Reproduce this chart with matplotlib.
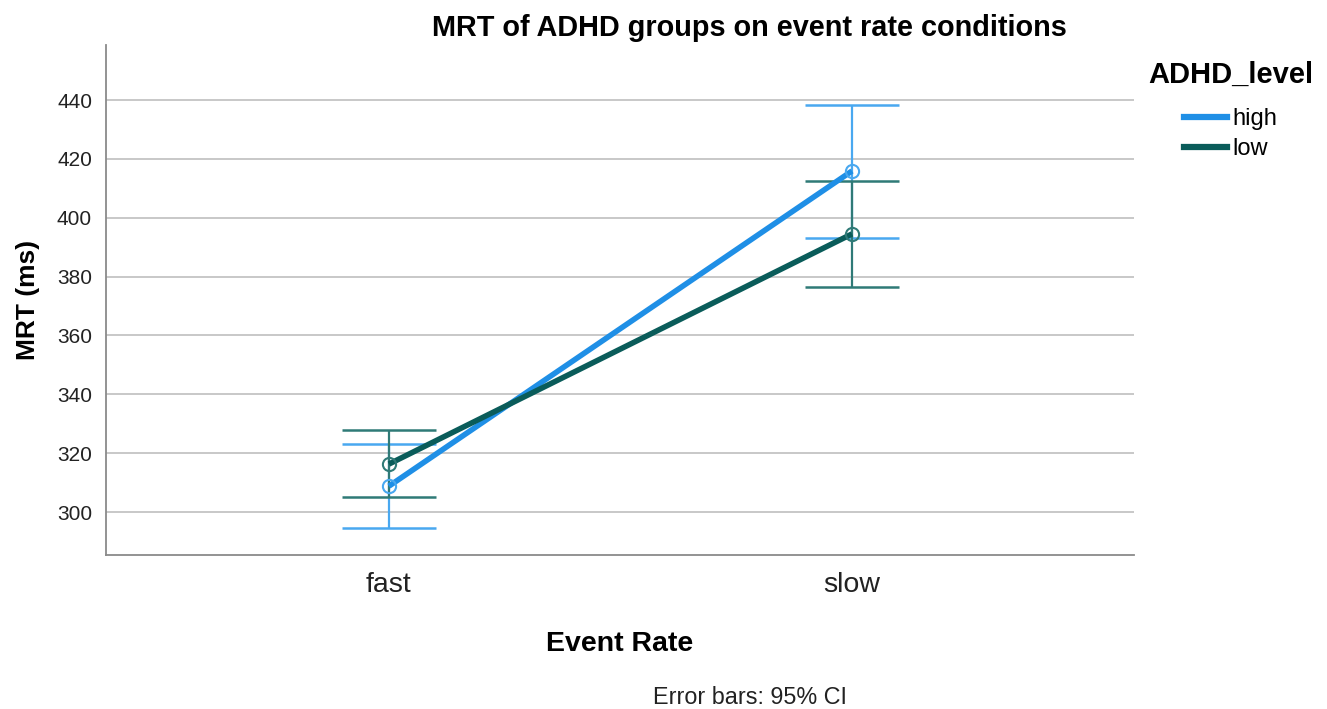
import matplotlib
matplotlib.use("Agg")
import matplotlib.pyplot as plt
from matplotlib.lines import Line2D

plt.rcParams['font.family'] = ['Liberation Sans', 'DejaVu Sans']

categories = ["fast", "slow"]
groups = ["high", "low"]
means = {"high": [308.8, 415.9], "low": [316.3, 394.5]}
ci_low = {"high": [294.6, 393.1], "low": [305.1, 376.5]}
ci_high = {"high": [323.1, 438.3], "low": [327.9, 412.5]}
yticks = [300, 320, 340, 360, 380, 400, 420, 440]

line_colors = {"high": "#1f8fe6", "low": "#0a5c5a"}
err_colors = {"high": "#49a8f0", "low": "#2f7a77"}

fig = plt.figure(figsize=(13.27, 7.09), dpi=100)
ax = fig.add_axes([106/1327, 1-555/709, (1134-106)/1327, (555-45)/709])

x = list(range(len(categories)))
for g in groups:
    m = means[g]
    lo = [mm - l for mm, l in zip(m, ci_low[g])]
    hi = [h - mm for mm, h in zip(m, ci_high[g])]
    ax.errorbar(x, m, yerr=[lo, hi], fmt='none', ecolor=err_colors[g],
                elinewidth=1.6, capsize=34, capthick=1.8, zorder=3)
    ax.plot(x, m, color=line_colors[g], lw=4, zorder=4, solid_capstyle='butt')
    ax.plot(x, m, 'o', mfc='none', mec=err_colors[g], ms=9.5, mew=1.5, zorder=5)

ax.set_xlim(-0.611, 1.609)
ax.set_ylim(285.4, 458.7)
ax.set_yticks(yticks)
ax.set_xticks(x)
ax.set_xticklabels(categories, fontsize=20.5, color="#222222")
ax.tick_params(axis='y', labelsize=15, length=0, pad=10, colors="#222222")
ax.tick_params(axis='x', length=0, pad=12)
ax.grid(axis='y', color='#c4c4c4', lw=1.3)
ax.set_axisbelow(True)
for s in ['top', 'right']:
    ax.spines[s].set_visible(False)
for s in ['left', 'bottom']:
    ax.spines[s].set_color('#8a8a8a')
    ax.spines[s].set_linewidth(1.3)

ax.set_ylabel("MRT (ms)", fontsize=19, fontweight='bold', labelpad=12)
ax.set_xlabel("Event Rate", fontsize=20.5, fontweight='bold', labelpad=24)
fig.text(749/1327, 1-28/709, "MRT of ADHD groups on event rate conditions",
         ha='center', va='center', fontsize=20.8, fontweight='bold')
fig.text(750/1327, 1-697/709, "Error bars: 95% CI", ha='center', va='center',
         fontsize=16.8, color='#222222')

fig.text(1148/1327, 1-75/709, "ADHD_level", ha='left', va='center',
         fontsize=21, fontweight='bold')
handles = [Line2D([0], [0], color=line_colors[g], lw=4.5) for g in groups]
leg = fig.legend(handles, groups, loc='upper left', bbox_to_anchor=(1184/1327, 1-108/709),
                 frameon=False, fontsize=17, handlelength=1.8, borderpad=0,
                 handletextpad=0.25, labelspacing=0.34, borderaxespad=0)

fig.savefig("out.png", dpi=100)
